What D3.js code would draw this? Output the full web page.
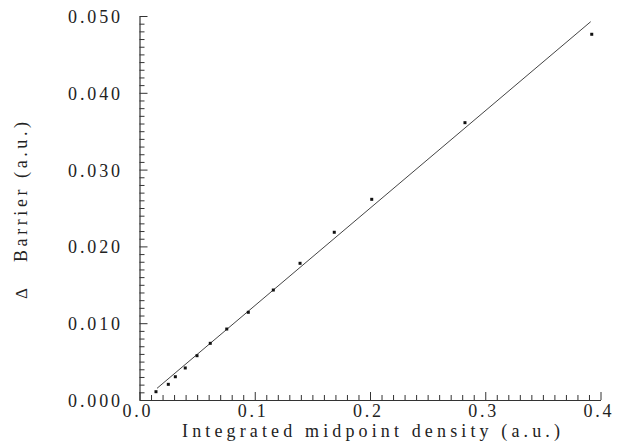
<!DOCTYPE html>
<html>
<head>
<meta charset="utf-8">
<script src="https://cdn.jsdelivr.net/npm/d3@7"></script>
<style>
  body{margin:0;background:#fff;}
</style>
</head>
<body>
<div class="container"></div>
<script>
// measured points (integrated midpoint density vs delta barrier)
const density = [0.0143,0.0250,0.0311,0.0397,0.0499,0.0614,0.0757,0.0944,0.1161,0.1393,0.1690,0.2015,0.2824,0.3924];
const barrier = [0.00108,0.00204,0.00303,0.00417,0.00577,0.00738,0.00924,0.01142,0.01432,0.01780,0.02184,0.02613,0.03611,0.04762];

// straight fit line end points
const fitX = [0.0152,0.3915];
const fitY = [0.00152,0.04926];

// tick labels
const xTicks = [0,0.1,0.2,0.3,0.4];
const xLabels = ["0.0","0.1","0.2","0.3","0.4"];
const yTicks = [0,0.01,0.02,0.03,0.04,0.05];
const yLabels = ["0.000","0.010","0.020","0.030","0.040","0.050"];

const w=622;
const h=442;
const font = "'Liberation Serif'";

const xScale = d3.scaleLinear().domain([0,0.4]).range([139.5,600.5]);
const yScale = d3.scaleLinear().domain([0,0.05]).range([400,16]);

const svg = d3.select(".container")
    .append("svg")
    .attr("width",w)
    .attr("height",h);

// x axis: minor ticks every 0.01, long ones every 0.1, pointing inward
const xAxis = d3.axisTop(xScale)
    .tickValues(d3.range(0,41).map(i=>i/100))
    .tickSize(0)
    .tickFormat("");
const gx = svg.append("g")
    .attr("transform","translate(0,400)")
    .call(xAxis);
gx.select(".domain").attr("stroke","#333").attr("stroke-width",1.2);
gx.selectAll(".tick line")
    .attr("stroke","#333")
    .attr("y2",(d,i)=> i%10==0 ? -8 : -5);

// y axis: minor ticks every 0.001
const yAxis = d3.axisRight(yScale)
    .tickValues(d3.range(0,51).map(i=>i/1000))
    .tickSize(0)
    .tickFormat("");
const gy = svg.append("g")
    .attr("transform","translate(139.5,0)")
    .call(yAxis);
gy.select(".domain").attr("stroke","#333").attr("stroke-width",1.2);
gy.selectAll(".tick line")
    .attr("stroke","#333")
    .attr("x2",(d,i)=> i%10==0 ? 8 : 5);

// tick labels
svg.selectAll(".xlab")
    .data(xTicks)
    .enter()
    .append("text")
    .attr("class","xlab")
    .attr("x",d=>xScale(d)-3)
    .attr("y",417)
    .attr("text-anchor","middle")
    .style("font-family",font)
    .style("font-size","18px")
    .style("fill","#222")
    .attr("textLength",28)
    .attr("lengthAdjust","spacing")
    .text((d,i)=>xLabels[i]);

svg.selectAll(".ylab")
    .data(yTicks)
    .enter()
    .append("text")
    .attr("class","ylab")
    .attr("x",68)
    .attr("y",d=>yScale(d)+7)
    .style("font-family",font)
    .style("font-size","18px")
    .style("fill","#222")
    .attr("textLength",52)
    .attr("lengthAdjust","spacing")
    .text((d,i)=>yLabels[i]);

// axis titles
svg.append("text")
    .attr("x",182)
    .attr("y",437)
    .style("font-family",font)
    .style("font-size","18px")
    .style("fill","#222")
    .attr("textLength",378)
    .attr("lengthAdjust","spacing")
    .text("Integrated midpoint density (a.u.)");

svg.append("text")
    .attr("transform","translate(27,262) rotate(-90)")
    .style("font-family",font)
    .style("font-size","18px")
    .style("fill","#222")
    .attr("textLength",140)
    .attr("lengthAdjust","spacing")
    .text("Barrier (a.u.)");

svg.append("text")
    .attr("transform","translate(27,299) rotate(-90)")
    .style("font-family",font)
    .style("font-size","17px")
    .style("fill","#222")
    .text("\u0394");

// fit line
const line = d3.line()
    .x(d=>xScale(d[0]))
    .y(d=>yScale(d[1]));
svg.append("path")
    .datum(fitX.map((x,i)=>[x,fitY[i]]))
    .attr("d",line)
    .attr("fill","none")
    .attr("stroke","#444")
    .attr("stroke-width",1);

// data points
svg.selectAll(".pt")
    .data(density)
    .enter()
    .append("rect")
    .attr("class","pt")
    .attr("x",(d)=>xScale(d)-1.5)
    .attr("y",(d,i)=>yScale(barrier[i])-1.5)
    .attr("width",3)
    .attr("height",3)
    .style("fill","#111");
</script>
</body>
</html>
